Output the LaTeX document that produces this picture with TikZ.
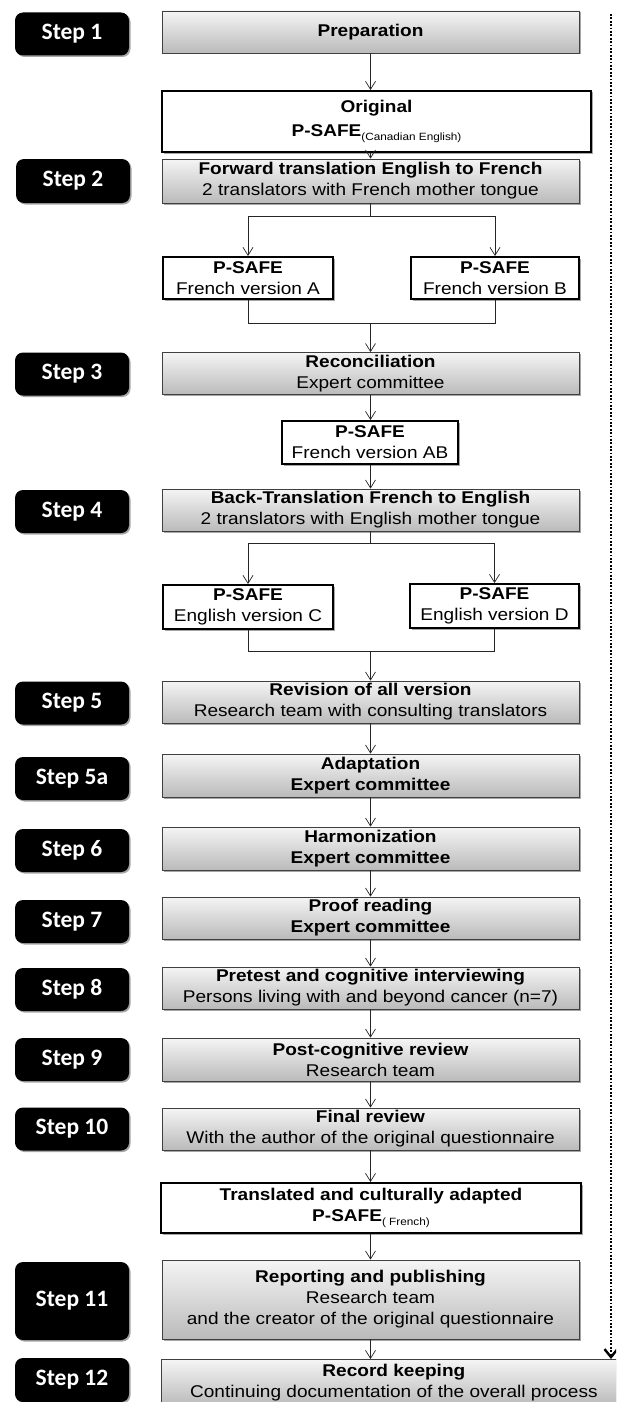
\documentclass[tikz,border=0pt]{standalone}
\usepackage{fontspec}
\setmainfont{Liberation Sans}[FakeStretch=1.12]
\newfontfamily\stepfont{Carlito}
\usetikzlibrary{arrows.meta,shadows,calc}
\newcommand\mfs{\fontsize{17}{21}\selectfont}
\newcommand\subfs{\fontsize{10.5}{12}\selectfont}
\begin{document}
\begin{tikzpicture}[x=1pt,y=-1pt,
  shd/.style={drop shadow={shadow xshift=1.5pt,shadow yshift=-1.5pt,opacity=0.35,fill=black}},
  gbox/.style={draw=black!75,line width=0.8pt,top color=black!4,bottom color=black!27,
    minimum width=417pt,minimum height=42pt,inner sep=0pt,align=center,font=\mfs,shd},
  wbox/.style={draw=black,line width=2pt,fill=white,minimum height=42pt,inner sep=0pt,
    align=center,font=\mfs,shd},
  stepbox/.style={fill=black,rounded corners=8pt,text=white,
    font=\stepfont\bfseries\fontsize{23.5}{25}\selectfont,
    minimum width=114pt,minimum height=43pt,inner sep=0pt,shd},
  ln/.style={draw=black!85,line width=0.7pt},
  arr/.style={ln,-{Straight Barb[length=8pt,width=10pt,line width=0.7pt]}},
  dots/.style={line width=2.2pt,dash pattern=on 1.8pt off 1.6pt,
    -{Straight Barb[length=8pt,width=13pt,line width=2.4pt]}}
]
\clip (0,0) rectangle (616,1402);
\useasboundingbox (0,0) rectangle (616,1402);
\fill[white] (0,0) rectangle (616,1402);

% step labels
\node[stepbox] (st1)  at (72,34)    {Step 1};
\node[stepbox,minimum height=44pt] (st2)  at (73,181)   {Step 2};
\node[stepbox] (st3)  at (72,374)   {Step 3};
\node[stepbox] (st4)  at (72,511.5) {Step 4};
\node[stepbox] (st5)  at (72,703)   {Step 5};
\node[stepbox] (st5a) at (72,778.5) {Step 5a};
\node[stepbox] (st6)  at (72,850.5) {Step 6};
\node[stepbox] (st7)  at (72,921.5) {Step 7};
\node[stepbox] (st8)  at (72,989.5) {Step 8};
\node[stepbox] (st9)  at (72,1059.5) {Step 9};
\node[stepbox] (st10) at (72,1129)  {Step 10};
\node[stepbox,minimum height=78pt] (st11) at (72,1301) {Step 11};
\node[stepbox,minimum height=44pt] (st12) at (72,1380) {Step 12};

% process boxes
\node[gbox] (prep) at (370.5,32) {\textbf{Preparation}};
\node[wbox,minimum width=429pt,minimum height=61pt] (orig) at (376.5,121.5)
  {\textbf{Original}\\[3pt]\textbf{P-SAFE}\raisebox{-4pt}{\subfs(Canadian English)}};
\node[gbox,minimum height=44pt] (fwd) at (370.5,181)
  {\textbf{Forward translation English to French}\\2 translators with French mother tongue};
\node[wbox,minimum width=170pt] (va) at (248,278) {\textbf{P-SAFE}\\French version A};
\node[wbox,minimum width=168pt] (vb) at (495,278) {\textbf{P-SAFE}\\French version B};
\node[gbox] (recon) at (370.5,373.5) {\textbf{Reconciliation}\\Expert committee};
\node[wbox,minimum width=176pt,minimum height=43pt] (vab) at (370,442.5) {\textbf{P-SAFE}\\French version AB};
\node[gbox] (back) at (370.5,510)
  {\textbf{Back-Translation French to English}\\2 translators with English mother tongue};
\node[wbox,minimum width=170pt,minimum height=44pt] (vc) at (248,607) {\textbf{P-SAFE}\\English version C};
\node[wbox,minimum width=169pt,minimum height=44pt] (vd) at (494.5,606) {\textbf{P-SAFE}\\English version D};
\node[gbox] (rev) at (370.5,702) {\textbf{Revision of all version}\\Research team with consulting translators};
\node[gbox,minimum height=43pt] (adap) at (370.5,775.5) {\textbf{Adaptation}\\\textbf{Expert committee}};
\node[gbox,minimum height=43pt] (harm) at (370.5,848.5) {\textbf{Harmonization}\\\textbf{Expert committee}};
\node[gbox] (proof) at (370.5,918) {\textbf{Proof reading}\\\textbf{Expert committee}};
\node[gbox] (pre) at (370.5,988) {\textbf{Pretest and cognitive interviewing}\\Persons living with and beyond cancer (n=7)};
\node[gbox,minimum height=43pt] (post) at (370.5,1059.5) {\textbf{Post-cognitive review}\\Research team};
\node[gbox] (fin) at (370.5,1129) {\textbf{Final review}\\With the author of the original questionnaire};
\node[wbox,minimum width=420pt,minimum height=50pt] (trans) at (371,1208)
  {\textbf{Translated and culturally adapted}\\\textbf{P-SAFE}\raisebox{-4pt}{\subfs( French)}};
\node[gbox,minimum height=79pt] (rep) at (370.5,1299.5)
  {\textbf{Reporting and publishing}\\Research team\\and the creator of the original questionnaire};
\node[gbox,minimum width=465pt,minimum height=46pt,anchor=north west] (recd) at (161,1359)
  {\textbf{Record keeping}\\Continuing documentation of the overall process};

% connectors
\draw[arr] (prep.south) -- (prep.south |- orig.north);
\draw[arr] (fwd.north |- orig.south) -- (fwd.north);
\coordinate (b1) at ($(fwd.south)+(0,13)$);
\draw[ln] (fwd.south) -- (b1);
\draw[arr] (b1) -| (va.north);
\draw[arr] (b1) -| (vb.north);
\coordinate (m1) at ($(recon.north)+(0,-29)$);
\draw[ln] (va.south) |- (m1) -| (vb.south);
\draw[arr] (m1) -- (recon.north);
\draw[arr] (recon.south) -- (recon.south |- vab.north);
\draw[arr] (back.north |- vab.south) -- (back.north);
\coordinate (b2) at ($(back.south)+(0,12)$);
\draw[ln] (back.south) -- (b2);
\draw[arr] (b2) -| (vc.north);
\draw[arr] (b2) -| (vd.north);
\coordinate (m2) at ($(rev.north)+(0,-29)$);
\draw[ln] (vc.south) |- (m2) -| (vd.south);
\draw[arr] (m2) -- (rev.north);
\draw[arr] (rev.south) -- (adap.north);
\draw[arr] (adap.south) -- (harm.north);
\draw[arr] (harm.south) -- (proof.north);
\draw[arr] (proof.south) -- (pre.north);
\draw[arr] (pre.south) -- (post.north);
\draw[arr] (post.south) -- (fin.north);
\draw[arr] (fin.south) -- (fin.south |- trans.north);
\draw[arr] (rep.north |- trans.south) -- (rep.north);
\draw[arr] (rep.south) -- (rep.south |- recd.north);

% dotted feedback line
\coordinate (dtop) at (611,14);
\draw[dots] (dtop) -- (dtop |- recd.north);
\end{tikzpicture}
\end{document}
